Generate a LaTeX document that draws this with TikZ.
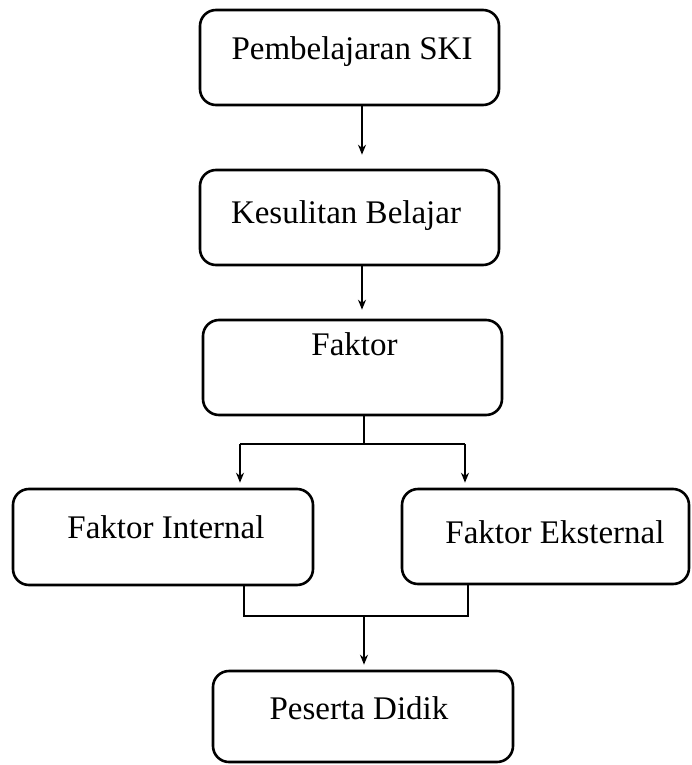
\documentclass[tikz,border=0pt]{standalone}
\usepackage{fontspec}
\setmainfont{Liberation Serif}
\usetikzlibrary{arrows.meta}
\begin{document}
\begin{tikzpicture}[x=1pt,y=-1pt,
  box/.style={draw=black,line width=2.6pt,rounded corners=16pt,inner sep=0pt},
  lbl/.style={anchor=base,inner sep=0pt,font=\fontsize{33}{36}\selectfont},
  conn/.style={draw=black,line width=1.5pt},
  arr/.style={conn,-{Stealth[length=10pt,width=8pt]}}]
\useasboundingbox (0,0) rectangle (692,765);
% boxes
\node[box,minimum width=299pt,minimum height=95pt] (b1) at (349.5,57.5) {};
\node[box,minimum width=299pt,minimum height=95pt] (b2) at (349.5,217.5) {};
\node[box,minimum width=299pt,minimum height=95pt] (b3) at (352.5,367.5) {};
\node[box,minimum width=300pt,minimum height=96pt] (b4) at (163,537) {};
\node[box,minimum width=287pt,minimum height=95pt] (b5) at (545.5,536.5) {};
\node[box,minimum width=300pt,minimum height=91pt] (b6) at (363,716.5) {};
% labels
\node[lbl] (t1) at (352,60) {Pembelajaran SKI};
\node[lbl] (t2) at (346,223) {Kesulitan Belajar};
\node[lbl] (t3) at (354.5,355) {Faktor};
\node[lbl] (t4) at (166,538) {Faktor Internal};
\node[lbl] (t5) at (555,543) {Faktor Eksternal};
\node[lbl] (t6) at (359,719) {Peserta Didik};
% connector points
\coordinate (a1) at (362,105);
\coordinate (a2) at (362,265);
\coordinate (s3) at (364,415);
\coordinate (j3) at (364,444);
\coordinate (jl) at (240,444);
\coordinate (jr) at (465,444);
\coordinate (s4) at (244,585);
\coordinate (s5) at (468,584);
\coordinate (m4) at (244,616);
\coordinate (m5) at (468,616);
\coordinate (jm) at (364,616);
% connectors
\draw[arr,shorten >=14pt] (a1) -- (a1 |- b2.north);
\draw[arr,shorten >=9pt] (a2) -- (a2 |- b3.north);
\draw[conn] (s3) -- (j3);
\draw[conn] (jl) -- (jr);
\draw[arr,shorten >=5pt] (jl) -- (jl |- b4.north);
\draw[arr,shorten >=5pt] (jr) -- (jr |- b5.north);
\draw[conn] (s4) -- (m4) -- (m5) -- (s5);
\draw[arr,shorten >=5pt] (jm) -- (jm |- b6.north);
\end{tikzpicture}
\end{document}
